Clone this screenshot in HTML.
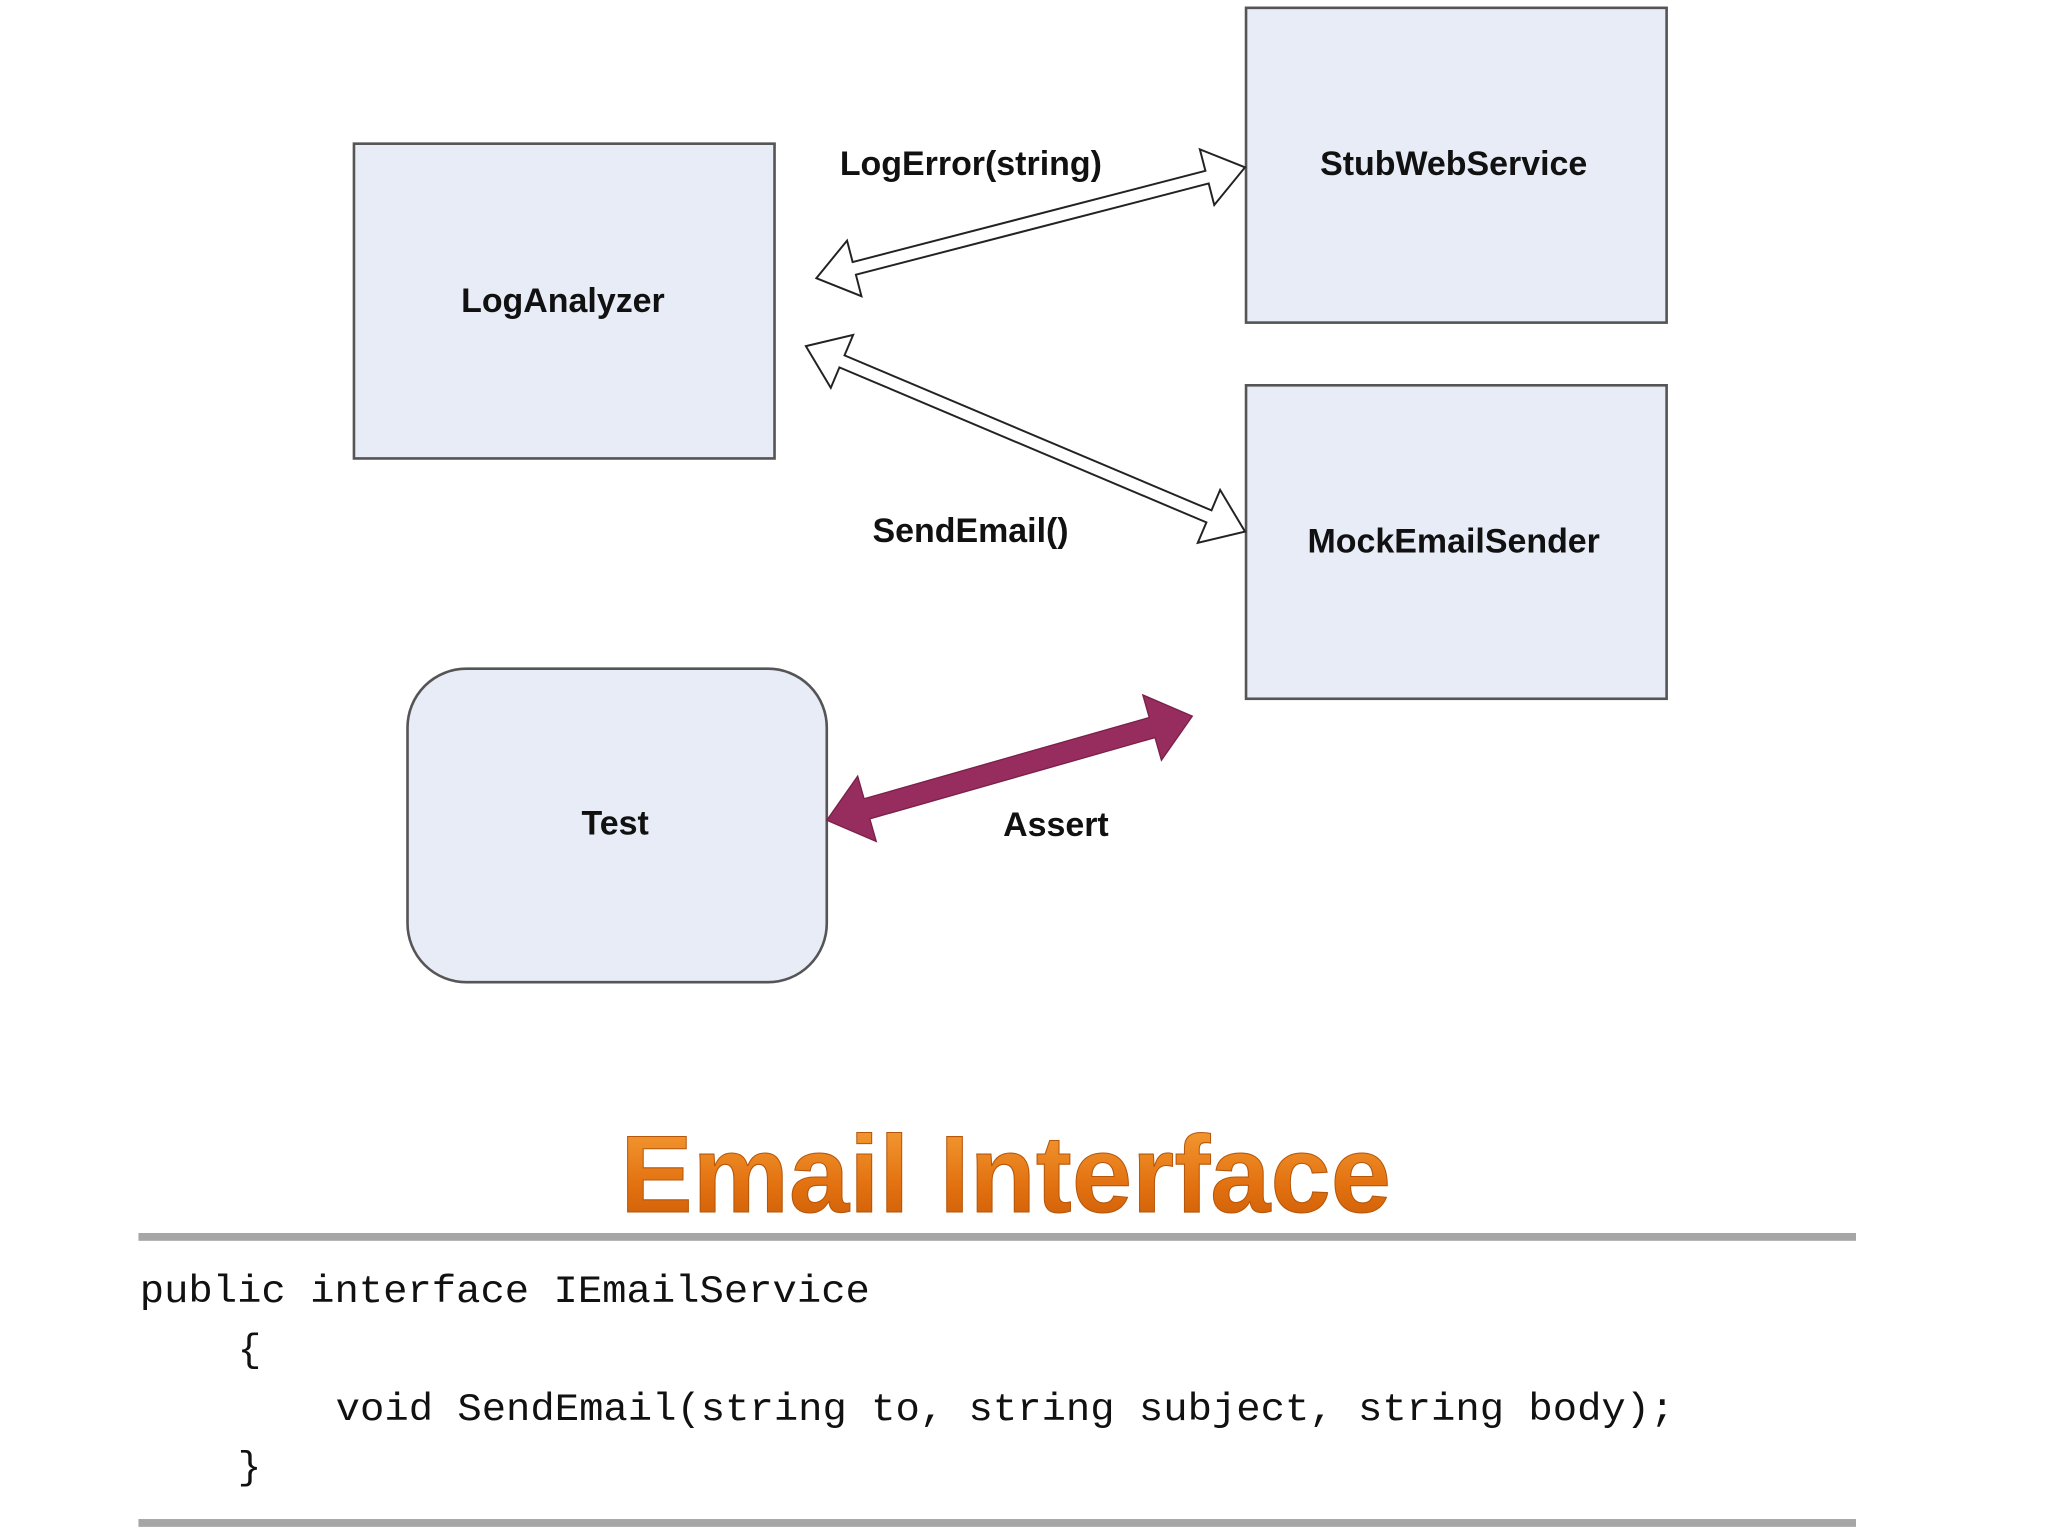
<!DOCTYPE html>
<html><head><meta charset="utf-8"><style>html,body{margin:0;padding:0;background:#fff}svg{display:block}</style></head><body>
<svg width="2048" height="1536" viewBox="0 0 1568 1176" xmlns="http://www.w3.org/2000/svg">
<defs><linearGradient id="og" x1="0" y1="0" x2="0" y2="1"><stop offset="0" stop-color="#f7a23a"/><stop offset="0.6" stop-color="#e2700f"/><stop offset="1" stop-color="#c85a08"/></linearGradient></defs>
<rect width="1568" height="1176" fill="#fff"/>
<g stroke="#555" stroke-width="2" fill="#e8ecf7">
<rect x="271" y="110" width="322" height="241"/>
<rect x="954" y="6" width="322" height="241"/>
<rect x="954" y="295" width="322" height="240"/>
<rect x="312" y="512" width="321" height="240" rx="45"/>
</g>
<g font-family="Liberation Sans, sans-serif" font-weight="bold" font-size="26" fill="#111">
<text x="431" y="239" text-anchor="middle">LogAnalyzer</text>
<text x="1113" y="134" text-anchor="middle">StubWebService</text>
<text x="1113" y="423" text-anchor="middle">MockEmailSender</text>
<text x="471" y="639" text-anchor="middle">Test</text>
<text x="643" y="134">LogError(string)</text>
<text x="668" y="415">SendEmail()</text>
<text x="768" y="640">Assert</text>
</g>
<g fill="#fff" stroke="#222" stroke-width="1.5">
<polygon transform="translate(625,213) rotate(-14.5)" points="0,0 30,-22 30,-5 309,-5 309,-22 339,0 309,22 309,5 30,5 30,22"/>
<polygon transform="translate(617,265) rotate(22.9)" points="0,0 30,-22 30,-5 335,-5 335,-22 365,0 335,22 335,5 30,5 30,22"/>
</g>
<polygon transform="translate(633,628) rotate(-15.9)" fill="#962d5e" stroke="#7a2049" stroke-width="1" points="0,0 32,-26 32,-8 259,-8 259,-26 291,0 259,26 259,8 32,8 32,26"/>
<text x="770" y="928" text-anchor="middle" font-family="Liberation Sans, sans-serif" font-weight="bold" font-size="84" fill="url(#og)" stroke="#b5560a" stroke-width="0.8" textLength="590" lengthAdjust="spacingAndGlyphs">Email Interface</text>
<rect x="106" y="944" width="1315" height="6" fill="#a6a6a6"/>
<rect x="106" y="1163" width="1315" height="6" fill="#a6a6a6"/>
<g font-family="Liberation Mono, monospace" font-size="30" fill="#111">
<text x="107" y="997" textLength="559" lengthAdjust="spacingAndGlyphs">public interface IEmailService</text>
<text x="182" y="1042">{</text>
<text x="257" y="1087" textLength="1025" lengthAdjust="spacingAndGlyphs">void SendEmail(string to, string subject, string body);</text>
<text x="182" y="1132">}</text>
</g>
</svg>
</body></html>
